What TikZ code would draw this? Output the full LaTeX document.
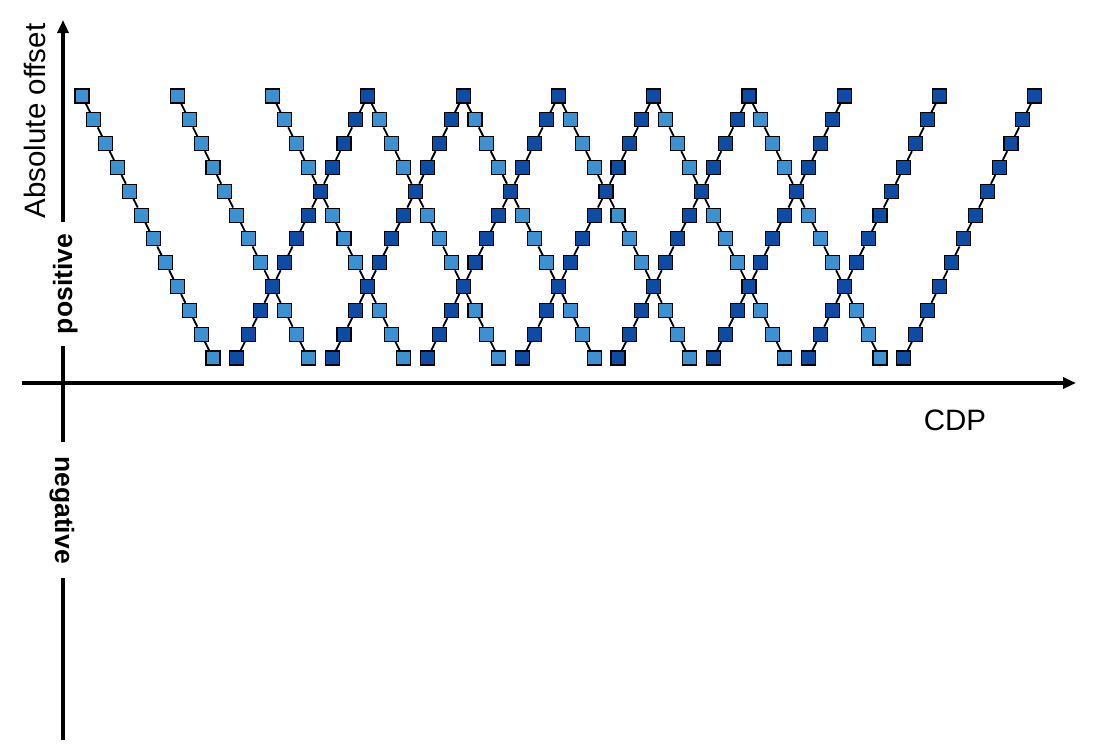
\documentclass[tikz,border=0pt]{standalone}
\usepackage{fontspec}
\setmainfont{Liberation Sans}
\usetikzlibrary{arrows.meta}
\definecolor{lightsq}{RGB}{58,146,210}
\definecolor{darksq}{RGB}{12,76,164}
\begin{document}
\begin{tikzpicture}[x=1pt,y=-1pt,
  sq/.style={draw=black, line width=1.1pt, minimum size=14pt, inner sep=0pt, rectangle},
  lsq/.style={sq, fill=lightsq},
  dsq/.style={sq, fill=darksq},
  link/.style={draw=black, line width=1.8pt},
  axis/.style={line width=3.2pt, black},
  axtip/.style={-{Triangle[length=13pt,width=11pt]}},
  lbl/.style={font=\fontsize{29.5}{31}\selectfont, inner sep=0pt},
  sidelbl/.style={font=\bfseries\fontsize{26.5}{28}\selectfont, inner ysep=0pt},
]
\useasboundingbox[fill=white] (0,0) rectangle (1100,750);

% light lines (down to the right)
\foreach \i in {0,...,7}{
  \foreach \r in {0,...,11}{
    \node[lsq] (L\i-\r) at ({82+(8*\i+\r)*11.91},{96+\r*23.82}) {};
  }
  \foreach \r in {0,...,10}{
    \pgfmathtruncatemacro\rn{\r+1}
    \draw[link] (L\i-\r) -- (L\i-\rn);
  }
}
% dark lines (up to the right)
\foreach \j in {0,...,7}{
  \foreach \r in {0,...,11}{
    \node[dsq] (D\j-\r) at ({82+(24+8*\j-\r)*11.91},{96+\r*23.82}) {};
  }
  \foreach \r in {0,...,10}{
    \pgfmathtruncatemacro\rn{\r+1}
    \draw[link] (D\j-\r) -- (D\j-\rn);
  }
}

% labels
\node[lbl, rotate=90, anchor=base] (abs) at (45.5,121) {Absolute offset};
\node[sidelbl, rotate=90, anchor=base, inner xsep=12pt] (pos) at (72,284) {positive};
\node[sidelbl, rotate=-90, anchor=base, inner xsep=14pt] (neg) at (55,510) {negative};
\node[lbl, anchor=base] (cdp) at (955,430) {CDP};

% axes
\coordinate (ytip) at (63,20);
\coordinate (ybot) at (63,740);
\coordinate (xstart) at (22,383);
\coordinate (xtip) at (1076,383);
\draw[axis, axtip] (ytip |- pos.east) -- (ytip);
\draw[axis] (ytip |- pos.west) -- (ytip |- neg.west);
\draw[axis] (ytip |- neg.east) -- (ybot);
\draw[axis, axtip] (xstart) -- (xtip);
\end{tikzpicture}
\end{document}
